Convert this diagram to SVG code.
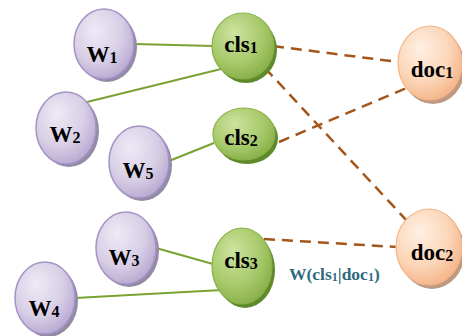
<svg xmlns="http://www.w3.org/2000/svg" width="462" height="336" viewBox="0 0 462 336">
<defs>
<radialGradient id="gW" cx="0.4" cy="0.35" r="0.7" fx="0.35" fy="0.3">
<stop offset="0" stop-color="#eeeaf5"/>
<stop offset="0.6" stop-color="#d8cfe6"/>
<stop offset="1" stop-color="#b6a6cf"/>
</radialGradient>
<radialGradient id="gC" cx="0.4" cy="0.35" r="0.7" fx="0.35" fy="0.3">
<stop offset="0" stop-color="#cfe3a0"/>
<stop offset="0.6" stop-color="#a8ca6c"/>
<stop offset="1" stop-color="#86ae46"/>
</radialGradient>
<radialGradient id="gD" cx="0.4" cy="0.35" r="0.7" fx="0.35" fy="0.3">
<stop offset="0" stop-color="#fef0e4"/>
<stop offset="0.6" stop-color="#fcd6b8"/>
<stop offset="1" stop-color="#f4b286"/>
</radialGradient>
</defs>
<style>
.sw{fill:#938aa6}
.sc{fill:#5e8a2c}
.sd{fill:#bf9a80}
.w{fill:url(#gW);stroke:#a493c6;stroke-width:1.5}
.c{fill:url(#gC);stroke:#8ab04a;stroke-width:1.2}
.d{fill:url(#gD);stroke:#f2b68a;stroke-width:1.2}
.t{font-family:"Liberation Serif","Times New Roman",serif;font-weight:bold;font-size:23px;fill:#000;text-anchor:middle}
.s{font-size:16px}
.g{stroke:#79a232;stroke-width:2;fill:none}
.b{stroke:#a3561b;stroke-width:2.5;fill:none;stroke-dasharray:11 7}
.lbl{font-family:"Liberation Serif","Times New Roman",serif;font-weight:bold;font-size:17.5px;fill:#2f6a7e}
</style>
<g id="connectors">
<line class="g" x1="134" y1="44" x2="213" y2="46"/>
<line class="g" x1="87" y1="102" x2="221" y2="69"/>
<line class="g" x1="169" y1="161" x2="214" y2="143"/>
<line class="g" x1="156" y1="248" x2="213" y2="264"/>
<line class="g" x1="75" y1="298" x2="222" y2="290"/>
<line class="b" x1="273" y1="46" x2="398" y2="62"/>
<line class="b" x1="265" y1="68" x2="408" y2="222"/>
<line class="b" x1="279" y1="142" x2="409" y2="87"/>
<line class="b" x1="264" y1="239" x2="397" y2="247"/>
</g>
<g id="W1"><ellipse class="sw" cx="107" cy="47" rx="30" ry="35"/><ellipse class="w" cx="104" cy="44" rx="30" ry="35"/><text class="t" x="102" y="62">W<tspan class="s" dy="1">1</tspan></text></g>
<g id="W2"><ellipse class="sw" cx="69" cy="131" rx="30" ry="36"/><ellipse class="w" cx="66" cy="128" rx="30" ry="36"/><text class="t" x="65" y="142">W<tspan class="s" dy="1">2</tspan></text></g>
<g id="W5"><ellipse class="sw" cx="142" cy="165" rx="30" ry="36"/><ellipse class="w" cx="139" cy="162" rx="30" ry="36"/><text class="t" x="138" y="178">W<tspan class="s" dy="1">5</tspan></text></g>
<g id="W3"><ellipse class="sw" cx="129" cy="251" rx="30" ry="36"/><ellipse class="w" cx="126" cy="248" rx="30" ry="36"/><text class="t" x="124" y="265">W<tspan class="s" dy="1">3</tspan></text></g>
<g id="W4"><ellipse class="sw" cx="48" cy="301" rx="30" ry="36"/><ellipse class="w" cx="45" cy="298" rx="30" ry="36"/><text class="t" x="44" y="316">W<tspan class="s" dy="1">4</tspan></text></g>
<g id="cls1"><ellipse class="sc" cx="246" cy="50" rx="31" ry="33"/><ellipse class="c" cx="243" cy="46" rx="31" ry="33"/><text class="t" x="241" y="52">cls<tspan class="s" dy="1">1</tspan></text></g>
<g id="cls2"><ellipse class="sc" cx="247" cy="138" rx="31" ry="26"/><ellipse class="c" cx="244" cy="134" rx="31" ry="26"/><text class="t" x="241" y="145">cls<tspan class="s" dy="1">2</tspan></text></g>
<g id="cls3"><ellipse class="sc" cx="245" cy="270" rx="30" ry="38"/><ellipse class="c" cx="242" cy="266" rx="30" ry="38"/><text class="t" x="241" y="268">cls<tspan class="s" dy="1">3</tspan></text></g>
<g id="doc1"><ellipse class="sd" cx="433" cy="67" rx="32" ry="37"/><ellipse class="d" cx="430" cy="63" rx="32" ry="37"/><text class="t" x="432" y="77">doc<tspan class="s" dy="1">1</tspan></text></g>
<g id="doc2"><ellipse class="sd" cx="432" cy="251" rx="33" ry="38"/><ellipse class="d" cx="429" cy="247" rx="33" ry="38"/><text class="t" x="432" y="260">doc<tspan class="s" dy="1">2</tspan></text></g>
<text class="lbl" x="289" y="280">W(cls<tspan font-size="12px" dy="1">1</tspan><tspan dy="-1">|doc</tspan><tspan font-size="12px" dy="1">1</tspan><tspan dy="-1">)</tspan></text>
</svg>
